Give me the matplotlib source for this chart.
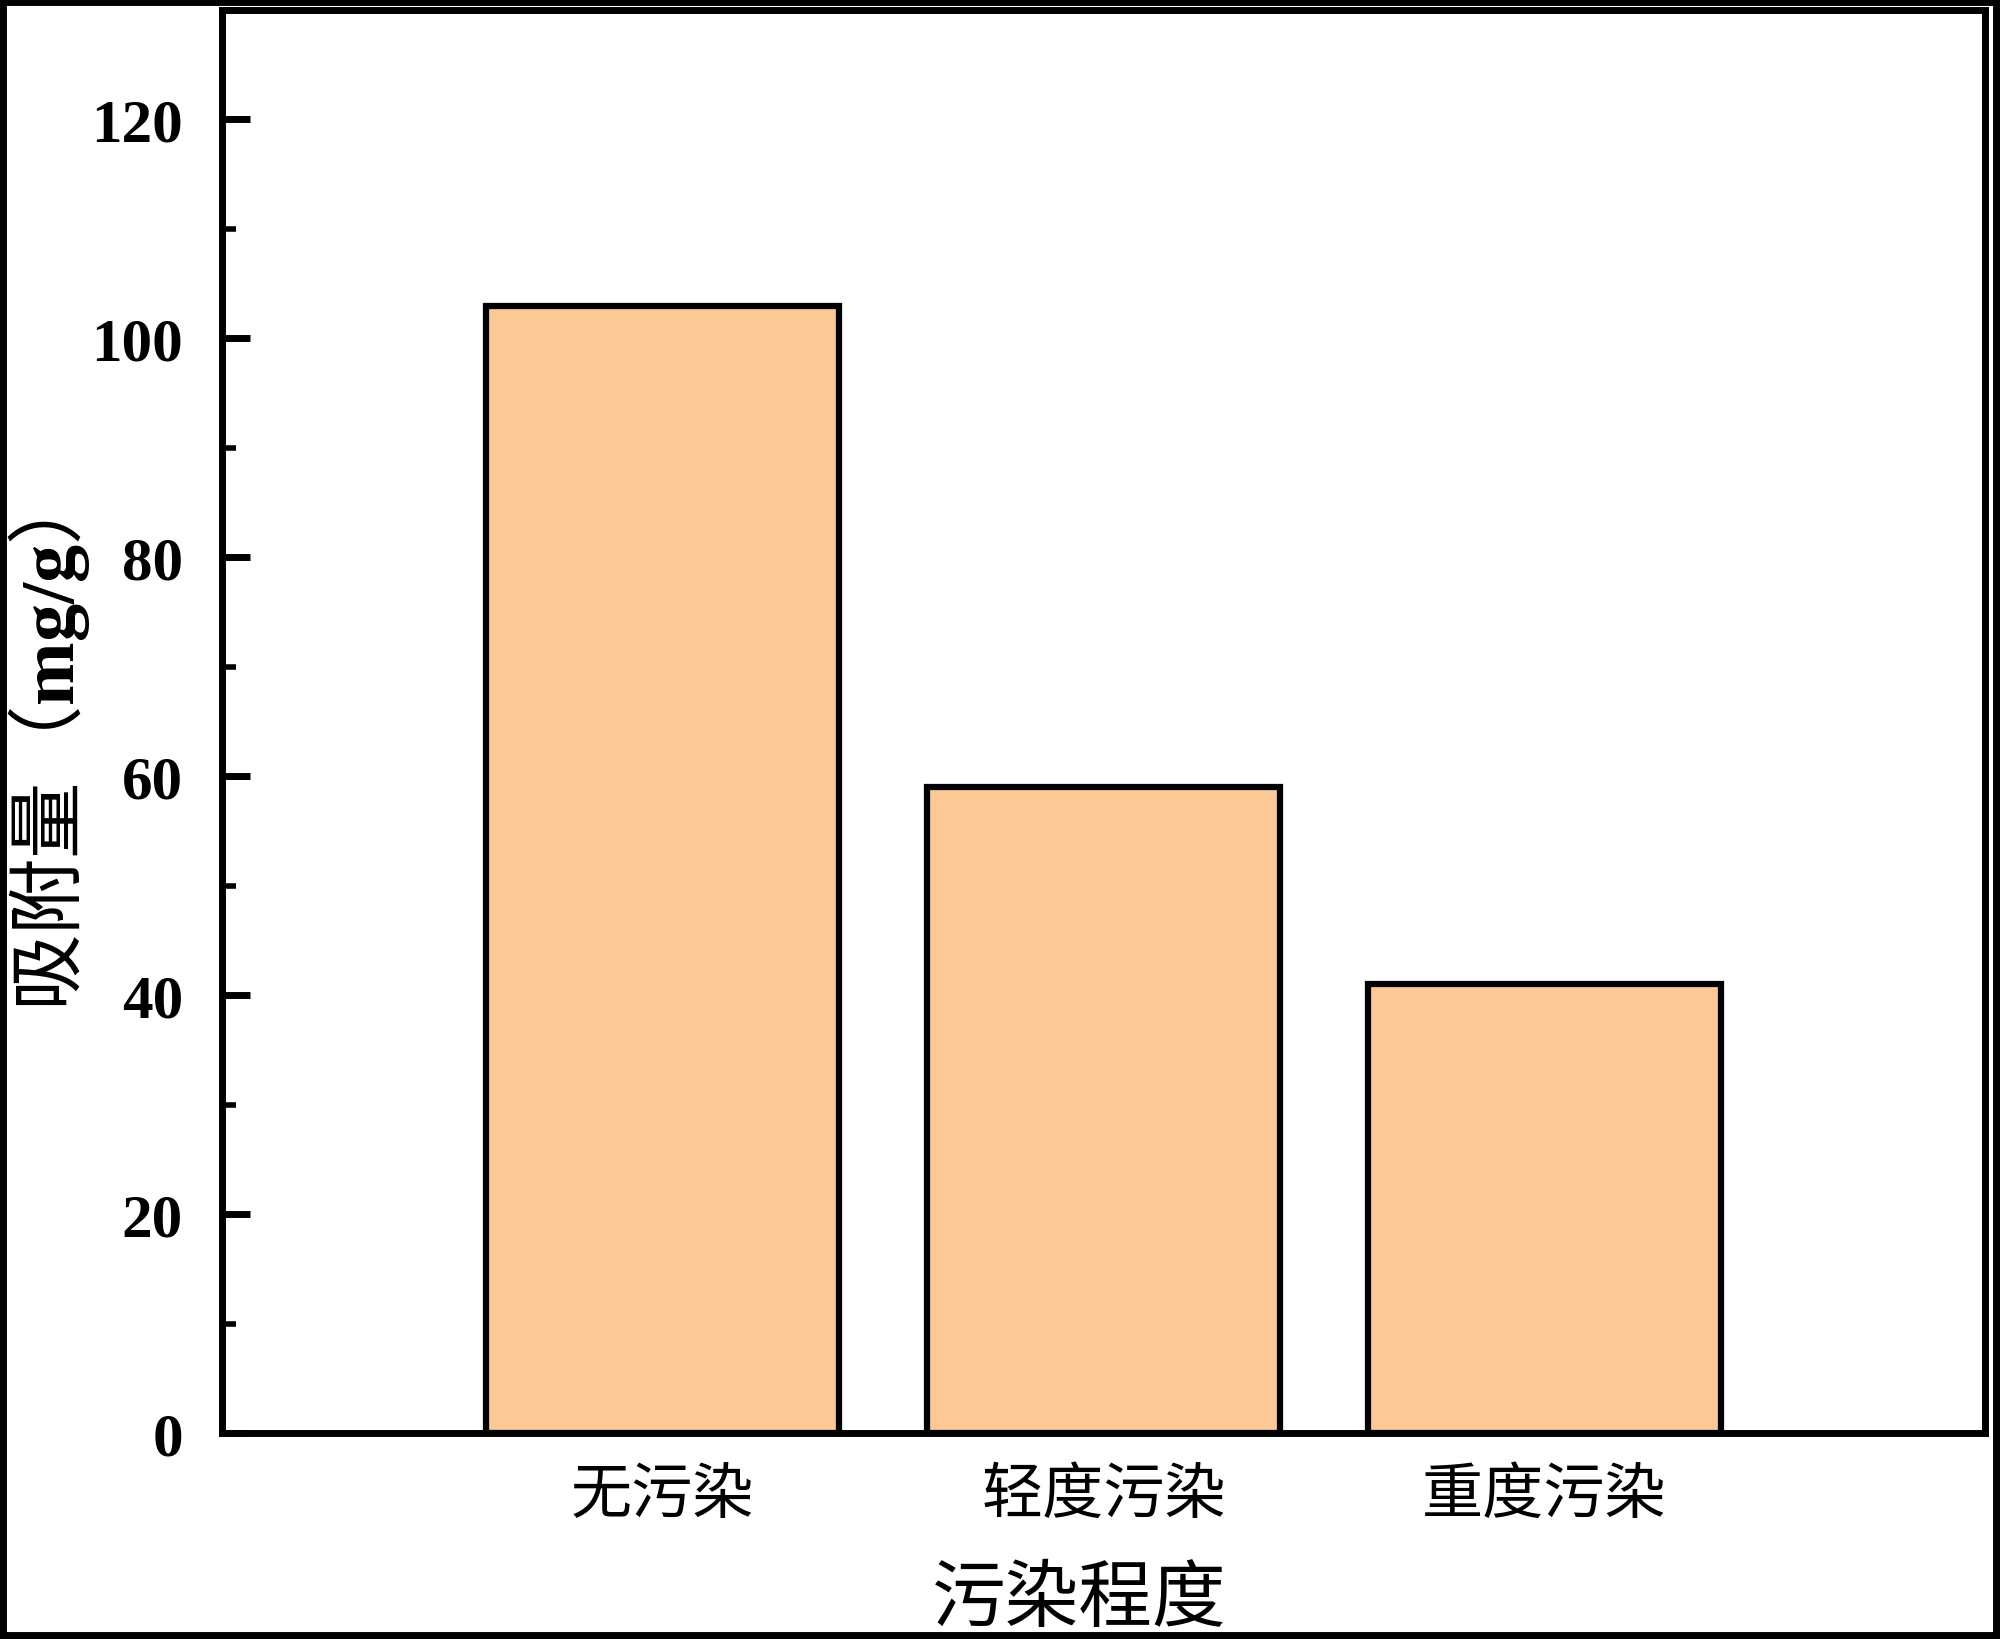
import matplotlib
matplotlib.use("Agg")
import matplotlib.pyplot as plt
from matplotlib.patches import Rectangle
from matplotlib.ticker import MultipleLocator

# data
categories = ['无污染', '轻度污染', '重度污染']
adsorption = [103, 59, 41]

bar_color = '#FCC996'
cjk = ['Noto Sans CJK SC', 'DejaVu Sans']

# bold serif for the unit inside the CJK axis label
plt.rcParams['mathtext.fontset'] = 'custom'
plt.rcParams['mathtext.bf'] = 'Liberation Serif:bold'
plt.rcParams['mathtext.rm'] = 'Liberation Serif'

fig = plt.figure(figsize=(20, 16.4), dpi=100)
ax = fig.add_axes([0.111, 0.1256, 0.8815, 0.8677])

x = range(len(categories))
ax.bar(x, adsorption, width=0.8, color=bar_color, edgecolor='black', linewidth=4.5)

ax.set_xlim(-1, 3)
ax.set_ylim(0, 130)
ax.set_xticks(list(x))
ax.set_xticklabels(categories, family=cjk, fontsize=44)
ax.yaxis.set_major_locator(MultipleLocator(20))
ax.yaxis.set_minor_locator(MultipleLocator(10))

for lab in ax.get_yticklabels():
    lab.set_family('Liberation Serif')
    lab.set_fontweight('bold')
    lab.set_fontsize(44)

ax.tick_params(axis='x', length=0, pad=22)
ax.tick_params(axis='y', which='major', direction='in', length=20, width=5, pad=28)
ax.tick_params(axis='y', which='minor', direction='in', length=10, width=4)

for sp in ax.spines.values():
    sp.set_linewidth(5)

ax.set_xlabel('污染程度', family=cjk, fontsize=53)
ax.xaxis.set_label_coords(0.486, -0.09)
ax.set_ylabel('吸附量（$\\mathbf{mg/g}$）', family=cjk, fontsize=55)
ax.yaxis.set_label_coords(-0.074, 0.47)

# outer black frame round the picture
fig.patches.append(Rectangle((0, 0), 1, 1, transform=fig.transFigure,
                             fill=False, edgecolor='black', linewidth=10))

fig.savefig('out.png', dpi=100)
